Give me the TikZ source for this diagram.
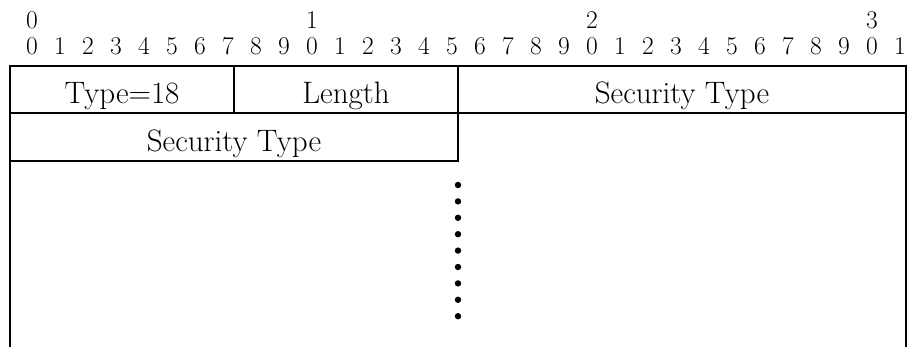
\documentclass[tikz,border=0pt]{standalone}
\begin{document}
\begin{tikzpicture}[x=1pt,y=-1pt,
  cell/.style={draw, line width=1.6pt, inner sep=0pt, outer sep=0pt, text height=33pt, text depth=4pt, font=\fontsize{31}{35}\selectfont},
  bitnum/.style={inner sep=0pt, anchor=base, font=\fontsize{25.5}{29}\selectfont},
  border/.style={line width=1.6pt},
  dot/.style={circle, fill=black, inner sep=0pt, minimum size=6.4pt}]
\useasboundingbox (0,0) rectangle (909,347);
% bit numbers
\foreach \i in {0,...,31} {
  \pgfmathtruncatemacro{\d}{mod(\i,10)}
  \node[bitnum] (b\i) at ({32+28*\i},55) {\d};
}
\foreach \i/\t in {0/0,10/1,20/2,30/3} {
  \node[bitnum] (t\i) at ({32+28*\i},29) {\t};
}
% row 1
\node[cell, minimum width=224pt, minimum height=47pt] (type) at (122,89.5) {Type=18};
\node[cell, minimum width=224pt, minimum height=47pt] (len) at (346,89.5) {Length};
\node[cell, minimum width=448pt, minimum height=47pt] (sec1) at (682,89.5) {Security Type};
% row 2
\node[cell, minimum width=448pt, minimum height=48pt, text height=34pt] (sec2) at (234,137) {Security Type};
% open sides
\coordinate (lb) at (10,347);
\coordinate (rb) at (906,347);
\draw[border] (sec2.south west) -- (lb);
\draw[border] (sec1.south east) -- (rb);
% dots
\foreach \k in {0,...,8} {
  \node[dot] (d\k) at (458,{185+16.4*\k}) {};
}
\end{tikzpicture}
\end{document}
